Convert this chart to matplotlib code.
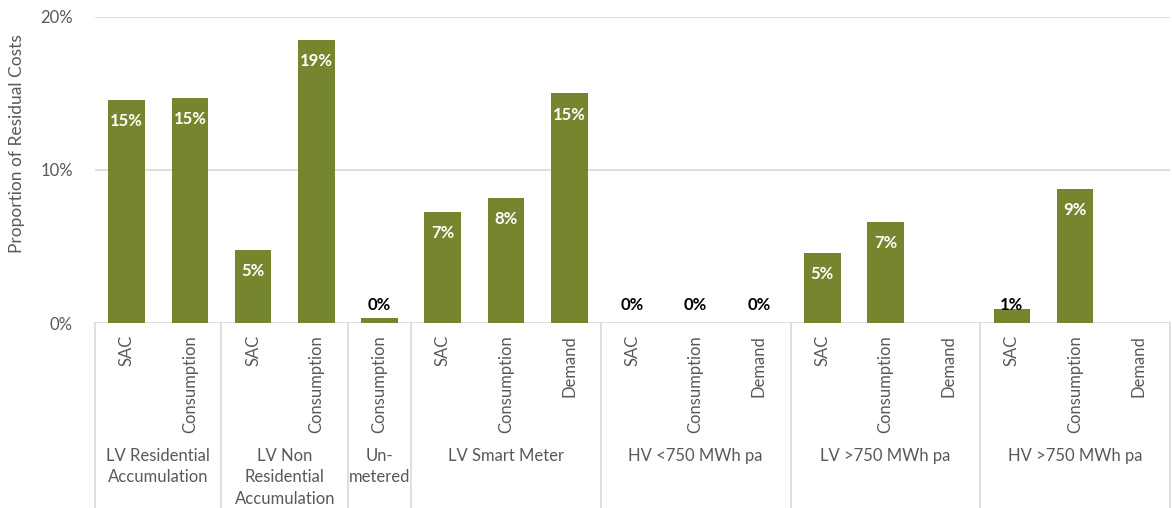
import matplotlib.pyplot as plt
import numpy as np

# categories
groups = ["LV Residential\nAccumulation", "LV Non\nResidential\nAccumulation", "Un-\nmetered",
          "LV Smart Meter", "HV <750 MWh pa", "LV >750 MWh pa", "HV >750 MWh pa"]
charges = [["SAC", "Consumption"],
           ["SAC", "Consumption"],
           ["Consumption"],
           ["SAC", "Consumption", "Demand"],
           ["SAC", "Consumption", "Demand"],
           ["SAC", "Consumption", "Demand"],
           ["SAC", "Consumption", "Demand"]]
# proportion of residual costs, % (None = no value)
values = [[14.6, 14.7],
          [4.8, 18.5],
          [0.35],
          [7.25, 8.2, 15.0],
          [0.0, 0.0, 0.0],
          [4.6, 6.6, None],
          [0.9, 8.75, None]]

plt.rcParams['font.family'] = ['Lato', 'DejaVu Sans']
bar_color = '#76862e'
grey = '#595959'

fig = plt.figure(figsize=(11.72, 5.08), dpi=100)
W, H = 1172, 508
ax = fig.add_axes([95 / W, (H - 323) / H, (1170 - 95) / W, (323 - 17) / H])

x = 0
starts = []
for g, (labs, vals) in enumerate(zip(charges, values)):
    starts.append(x)
    for lab, v in zip(labs, vals):
        h = 0 if v is None else v
        ax.bar(x, h, width=0.58, color=bar_color, zorder=3)
        ax.text(x, -0.04, lab, transform=ax.get_xaxis_transform(), rotation=90,
                ha='center', va='top', fontsize=12, color=grey)
        if v is not None:
            txt = f"{v:.0f}%" if v % 1 != 0.5 else f"{np.ceil(v):.0f}%"
            if v >= 2:
                ax.text(x, v - 0.85, txt, ha='center', va='top', fontsize=12,
                        fontweight='bold', color='white', zorder=4)
            else:
                ax.text(x, 1.15, txt, ha='center', va='center', fontsize=12,
                        fontweight='bold', color='black', zorder=4)
        x += 1
starts.append(x)

ax.set_xlim(-0.5, x - 0.5)
ax.set_ylim(0, 20)
ax.set_yticks([0, 10, 20])
ax.set_yticklabels(["0%", "10%", "20%"])
ax.yaxis.grid(True, color='#d9d9d9', linewidth=1.2, zorder=0)
ax.set_xticks([])
ax.tick_params(axis='y', length=0, pad=16, labelsize=12, labelcolor=grey)
for s in ax.spines.values():
    s.set_visible(False)

# group separators and group names
tr = ax.get_xaxis_transform()
bottom = -(H - 323) / 306
for s in starts:
    ax.plot([s - 0.5, s - 0.5], [0, bottom], transform=tr, color='#d9d9d9',
            linewidth=1.2, clip_on=False)
for g, name in enumerate(groups):
    mid = (starts[g] + starts[g + 1] - 1) / 2
    ax.text(mid, -0.408, name, transform=tr, ha='center', va='top',
            fontsize=12, color=grey, linespacing=1.42)

fig.text(17 / W, (H - 144) / H, "Proportion of Residual Costs", rotation=90,
         ha='center', va='center', fontsize=12.5, color=grey)

fig.savefig("out.png", dpi=100)
